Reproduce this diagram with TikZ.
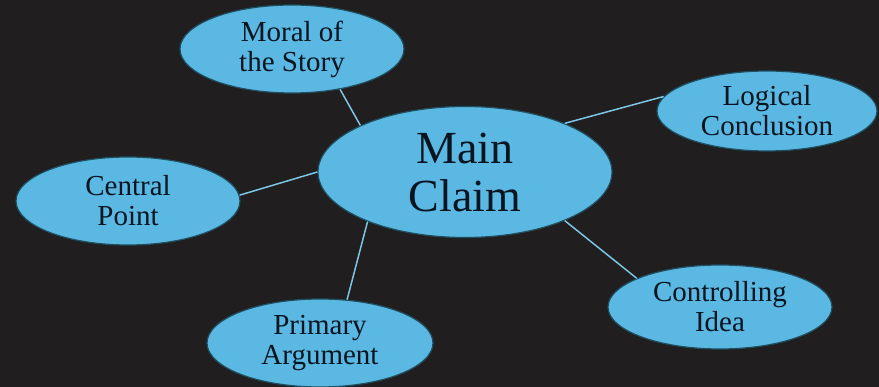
\documentclass[tikz,border=0pt]{standalone}
\usepackage{fontspec}
\setmainfont{Liberation Serif}
\usepackage{tikz}
\usetikzlibrary{shapes.geometric}
\definecolor{board}{HTML}{201E1E}
\definecolor{bubble}{HTML}{5BB8E2}
\definecolor{rim}{HTML}{1F4F60}
\definecolor{chalk}{HTML}{7CC6E6}
\definecolor{ink}{HTML}{081420}
\tikzset{
  idea/.style={ellipse,fill=bubble,draw=rim,line width=1.2pt,inner sep=-14pt,
    align=center,text=ink,font=\fontsize{29}{30}\selectfont},
  link/.style={draw=chalk,line width=1.5pt}
}
\begin{document}
\begin{tikzpicture}[x=1pt,y=-1pt]
\fill [board](0,0) rectangle (879,387);
\useasboundingbox (0,0) rectangle (879,387);

\node [idea,minimum width=294pt,minimum height=131pt,font=\fontsize{46}{48}\selectfont] (main) at (465,172) {Main\\Claim};
\node [idea,minimum width=224pt,minimum height=88pt] (moral) at (292,49) {Moral of\\the Story};
\node [idea,minimum width=220pt,minimum height=80pt] (logic) at (767,111) {Logical\\Conclusion};
\node [idea,minimum width=224pt,minimum height=88pt] (central) at (128,201) {Central\\Point};
\node [idea,minimum width=224pt,minimum height=84pt] (control) at (720,307) {Controlling\\Idea};
\node [idea,minimum width=226pt,minimum height=88pt] (primary) at (320,343) {Primary\\Argument};

\draw [link](moral.-40)--(main.156);
\draw [link](logic.172)--(main.26);
\draw [link](central.3)--(main.180);
\draw [link](primary.58)--(main.207);
\draw [link](control.161)--(main.-26);
\end{tikzpicture}
\end{document}
